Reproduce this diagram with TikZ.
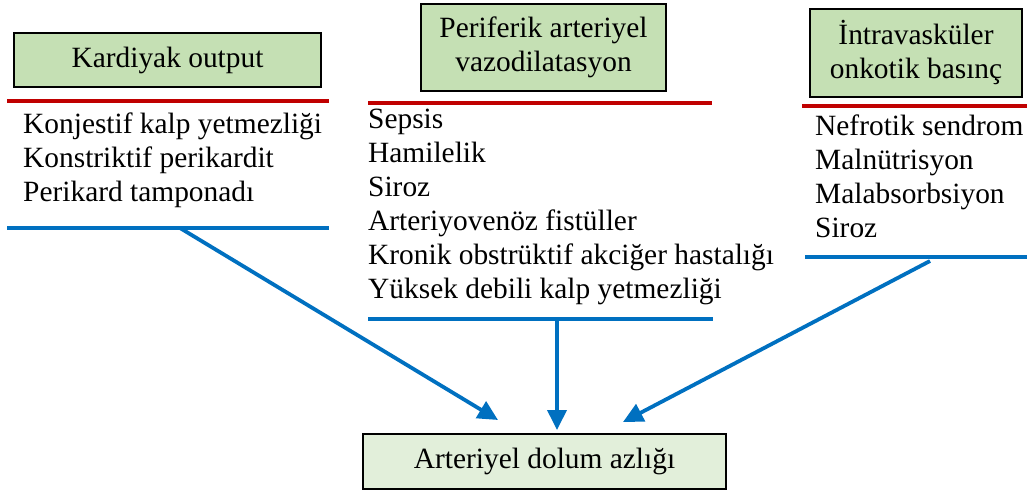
\documentclass[tikz,border=0pt]{standalone}
\usepackage{fontspec}
\setmainfont{Liberation Serif}
\usetikzlibrary{arrows.meta}

\definecolor{headgreen}{HTML}{C5E0B4}
\definecolor{resultgreen}{HTML}{E2EFDA}
\definecolor{rulered}{HTML}{C00000}
\definecolor{ruleblue}{HTML}{0070C0}

\tikzset{
  bodyfont/.style={font=\fontsize{29.4}{34}\selectfont},
  headbox/.style={draw=black, line width=2.2pt, fill=headgreen, inner sep=0pt,
                  align=center, bodyfont},
  resultbox/.style={headbox, fill=resultgreen},
  causelist/.style={anchor=north west, inner sep=0pt, align=left, bodyfont},
  redrule/.style={draw=rulered, line width=3.5pt},
  bluerule/.style={draw=ruleblue, line width=3.5pt},
  feeder/.style={draw=ruleblue, line width=3.8pt,
                 -{Triangle[length=20pt,width=19pt]}},
}

\begin{document}
\begin{tikzpicture}[x=1pt, y=-1pt]
\useasboundingbox (0,0) rectangle (1027,494);

% heading boxes
\node[headbox, minimum width=307pt, minimum height=54pt] (kard) at (167.5,60)
  {Kardiyak output};
\node[headbox, minimum width=245pt, minimum height=87pt] (peri) at (543.5,47.5)
  {Periferik arteriyel\\vazodilatasyon};
\node[headbox, minimum width=212pt, minimum height=88pt] (onko) at (916,53)
  {İntravasküler\\onkotik basınç};

% result box
\node[resultbox, minimum width=363pt, minimum height=55pt] (sonuc) at (544.5,461.5)
  {Arteriyel dolum azlığı};

% red rules under the headings
\coordinate (r1a) at (7,101);   \coordinate (r1b) at (329,101);
\coordinate (r2a) at (368,103); \coordinate (r2b) at (712,103);
\coordinate (r3a) at (802,106); \coordinate (r3b) at (1027,106);
\draw[redrule] (r1a) -- (r1b);
\draw[redrule] (r2a) -- (r2b);
\draw[redrule] (r3a) -- (r3b);

% lists of causes (first baseline sits 23.8pt below the node top)
\node[causelist] (liste1) at (23,109.2)
  {\strut Konjestif kalp yetmezliği\\Konstriktif perikardit\\Perikard tamponadı};
\node[causelist] (liste2) at (368,104.2)
  {\strut Sepsis\\Hamilelik\\Siroz\\Arteriyovenöz fistüller\\Kronik obstrüktif akciğer hastalığı\\Yüksek debili kalp yetmezliği};
\node[causelist] (liste3) at (815,111.2)
  {\strut Nefrotik sendrom\\Malnütrisyon\\Malabsorbsiyon\\Siroz};

% blue rules under the lists
\coordinate (b1a) at (7,228);   \coordinate (b1b) at (329,228);
\coordinate (b2a) at (368,319); \coordinate (b2b) at (713,319);
\coordinate (b3a) at (805,257); \coordinate (b3b) at (1027,257);
\draw[bluerule] (b1a) -- (b1b);
\draw[bluerule] (b2a) -- (b2b);
\draw[bluerule] (b3a) -- (b3b);

% arrows converging on the result box
\coordinate (a1s) at (180,228); \coordinate (a1e) at (498,420);
\coordinate (a2s) at (557,319); \coordinate (a2e) at (557,430);
\coordinate (a3s) at (930,261); \coordinate (a3e) at (623,422);
\draw[feeder] (a1s) -- (a1e);
\draw[feeder] (a2s) -- (a2e);
\draw[feeder] (a3s) -- (a3e);
\end{tikzpicture}
\end{document}
